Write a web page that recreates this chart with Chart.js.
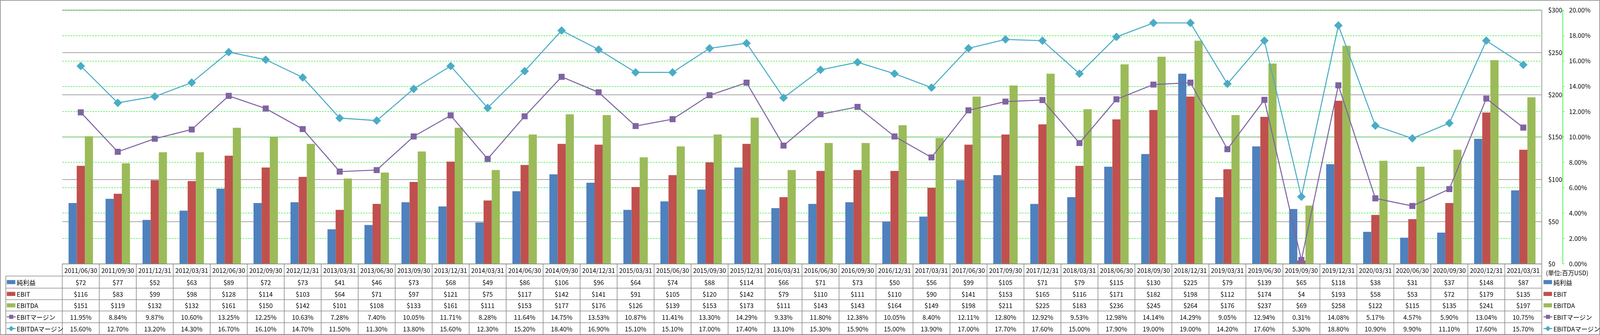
<!DOCTYPE html>
<html>
<head>
<meta charset="utf-8">
<script src="https://cdn.jsdelivr.net/npm/chart.js@4.4.1/dist/chart.umd.min.js"></script>
<style>
html,body{margin:0;padding:0;background:#fff;overflow:hidden;}
#wrap{position:fixed;left:0;top:0;width:100vw;height:100vh;overflow:hidden;}
#c{display:block;}
</style>
</head>
<body>
<div id="wrap"><canvas id="c"></canvas></div>
<script>
const categories = ["2011/06/30","2011/09/30","2011/12/31","2012/03/31","2012/06/30","2012/09/30","2012/12/31","2013/03/31","2013/06/30","2013/09/30","2013/12/31","2014/03/31","2014/06/30","2014/09/30","2014/12/31","2015/03/31","2015/06/30","2015/09/30","2015/12/31","2016/03/31","2016/06/30","2016/09/30","2016/12/31","2017/03/31","2017/06/30","2017/09/30","2017/12/31","2018/03/31","2018/06/30","2018/09/30","2018/12/31","2019/03/31","2019/06/30","2019/09/30","2019/12/31","2020/03/31","2020/06/30","2020/09/30","2020/12/31","2021/03/31"];
const netIncome = [72,77,52,63,89,72,73,41,46,73,68,49,86,106,96,64,74,88,114,66,71,73,50,56,99,105,71,79,115,130,225,79,139,65,118,38,31,37,148,87];
const ebit = [116,83,99,98,128,114,103,64,71,97,121,75,117,142,141,91,105,120,142,79,110,111,110,90,141,153,165,116,171,182,198,112,174,4,193,58,53,72,179,135];
const ebitda = [151,119,132,132,161,150,142,101,108,133,161,111,153,177,176,126,139,153,173,111,143,143,164,149,198,211,225,183,236,245,264,176,237,69,258,122,115,135,241,197];
const ebitMargin = [11.95,8.84,9.87,10.60,13.25,12.25,10.63,7.28,7.40,10.05,11.71,8.28,11.64,14.75,13.53,10.87,11.41,13.30,14.29,9.33,11.80,12.38,10.05,8.40,12.11,12.80,12.92,9.53,12.98,14.14,14.29,9.05,12.94,0.31,14.08,5.17,4.57,5.90,13.04,10.75];
const ebitdaMargin = [15.60,12.70,13.20,14.30,16.70,16.10,14.70,11.50,11.30,13.80,15.60,12.30,15.20,18.40,16.90,15.10,15.10,17.00,17.40,13.10,15.30,15.90,15.00,13.90,17.00,17.70,17.60,15.00,17.90,19.00,19.00,14.20,17.60,5.30,18.80,10.90,9.90,11.10,17.60,15.70];
const seriesNames = ["純利益","EBIT","EBITDA","EBITマージン","EBITDAマージン"];
const unitLabel = "(単位:百万USD)";
const dollarAxis = {min:0, max:300, step:50};
const pctAxis = {min:0, max:20, step:2};

const COLORS = ["#4F81BD","#C0504D","#9BBB59","#8064A2","#4BACC6"];
const FONT = "'Noto Sans CJK JP','Noto Sans',sans-serif";
const GRID_GRAY = "#8a8a8a";
const GREEN = "#00ee00";

const fmtDollar = v => "$" + v;
const fmtPct = v => v.toFixed(2) + "%";

// layout relative to a 4701 x 858 design
const wrap = document.getElementById("wrap");
const W = wrap.clientWidth || 4701;
const H = wrap.clientHeight || 858;
const sx = W / 4701, sy = H / 858, sf = Math.min(sx, sy);
const X = v => v * sx, Y = v => v * sy, F = v => v * sf;
const canvas = document.getElementById("c");
canvas.width = W; canvas.height = H;

const tablePlugin = {
  id: "dataTable",
  afterDraw(chart) {
    const ctx = chart.ctx;
    const ca = chart.chartArea;
    const xs = chart.scales.x;
    const n = categories.length;
    const colW = (ca.right - ca.left) / n;
    const rows = [ca.bottom, Y(707), Y(738), Y(767.5), Y(796.5), Y(826.5), Y(856.5)];
    const legendLeft = X(17);
    ctx.save();
    ctx.strokeStyle = GRID_GRAY;
    ctx.lineWidth = 1.6;
    ctx.setLineDash([]);
    ctx.beginPath();
    ctx.moveTo(ca.left, rows[0]); ctx.lineTo(ca.right, rows[0]);
    for (let r = 1; r < rows.length; r++) {
      ctx.moveTo(legendLeft, rows[r]); ctx.lineTo(ca.right, rows[r]);
    }
    ctx.moveTo(legendLeft, rows[1]); ctx.lineTo(legendLeft, rows[6]);
    for (let i = 0; i <= n; i++) {
      const x = ca.left + i * colW;
      ctx.moveTo(x, i === n ? ca.top : rows[0]); ctx.lineTo(x, rows[6]);
    }
    ctx.stroke();
    ctx.strokeRect(1, 1, chart.width - 2, chart.height - 2);

    ctx.fillStyle = "#000";
    ctx.textAlign = "center";
    ctx.textBaseline = "middle";
    ctx.font = F(18.5) + "px " + FONT;
    const rowVals = [
      categories,
      netIncome.map(fmtDollar),
      ebit.map(fmtDollar),
      ebitda.map(fmtDollar),
      ebitMargin.map(fmtPct),
      ebitdaMargin.map(fmtPct)
    ];
    for (let i = 0; i < n; i++) {
      const cx = xs.getPixelForValue(i);
      for (let r = 0; r < 6; r++) {
        const cy = (rows[r] + rows[r + 1]) / 2 + Y(1);
        ctx.fillText(rowVals[r][i], cx, cy);
      }
    }
    const drawKey = (x0, cy, k) => {
      const c = COLORS[k];
      if (k < 3) {
        ctx.fillStyle = c;
        ctx.fillRect(x0, cy - F(6), X(25), F(12));
      } else {
        ctx.strokeStyle = c; ctx.lineWidth = F(3);
        ctx.beginPath(); ctx.moveTo(x0, cy); ctx.lineTo(x0 + X(26), cy); ctx.stroke();
        ctx.fillStyle = c;
        ctx.beginPath();
        const mx = x0 + X(13);
        if (k === 3) {
          ctx.rect(mx - F(6), cy - F(6), F(12), F(12));
        } else {
          ctx.moveTo(mx, cy - F(8)); ctx.lineTo(mx + F(8), cy);
          ctx.lineTo(mx, cy + F(8)); ctx.lineTo(mx - F(8), cy);
          ctx.closePath();
        }
        ctx.fill();
      }
      ctx.fillStyle = "#000";
      ctx.textAlign = "left";
      ctx.font = F(18.5) + "px " + FONT;
      ctx.fillText(seriesNames[k], x0 + X(29), cy + Y(1));
    };
    const rightX = ca.right + X(5);
    for (let k = 0; k < 5; k++) {
      const cy = (rows[k + 1] + rows[k + 2]) / 2;
      drawKey(X(20), cy, k);
      drawKey(rightX, cy, k);
    }
    ctx.textAlign = "left";
    ctx.font = F(18) + "px " + FONT;
    ctx.fillText(unitLabel, ca.right + X(12), Y(699));
    ctx.restore();
  }
};

Chart.defaults.font.family = FONT;
Chart.defaults.color = "#000";

new Chart(canvas, {
  data: {
    labels: categories,
    datasets: [
      {type:"bar", label:seriesNames[0], data:netIncome, backgroundColor:COLORS[0], yAxisID:"y", order:2, categoryPercentage:0.66, barPercentage:1.0},
      {type:"bar", label:seriesNames[1], data:ebit, backgroundColor:COLORS[1], yAxisID:"y", order:2, categoryPercentage:0.66, barPercentage:1.0},
      {type:"bar", label:seriesNames[2], data:ebitda, backgroundColor:COLORS[2], yAxisID:"y", order:2, categoryPercentage:0.66, barPercentage:1.0},
      {type:"line", label:seriesNames[3], data:ebitMargin, borderColor:COLORS[3], backgroundColor:COLORS[3], yAxisID:"y1", order:1, borderWidth:F(3), pointStyle:"rect", pointRadius:F(12.5), pointBorderWidth:0, tension:0},
      {type:"line", label:seriesNames[4], data:ebitdaMargin, borderColor:COLORS[4], backgroundColor:COLORS[4], yAxisID:"y1", order:1, borderWidth:F(3), pointStyle:"rectRot", pointRadius:F(12.5), pointBorderWidth:0, tension:0}
    ]
  },
  options: {
    responsive: false,
    animation: false,
    layout: { padding: { left: X(183), top: Y(13), bottom: H - Y(676), right: X(9) } },
    plugins: { legend: { display: false }, tooltip: { enabled: false } },
    scales: {
      x: { type: "category", display: false, offset: true, grid: { display: false } },
      y: {
        position: "right", weight: 0, min: dollarAxis.min, max: dollarAxis.max,
        afterFit(s) { s.width = X(62); },
        ticks: { stepSize: dollarAxis.step, callback: v => fmtDollar(v), padding: X(19), font: { size: F(18.5) }, color: "#000" },
        grid: { color: GRID_GRAY, lineWidth: 1.6, drawTicks: false },
        border: { display: false }
      },
      y1: {
        position: "right", weight: 1, min: pctAxis.min, max: pctAxis.max,
        afterFit(s) { s.width = X(100); },
        ticks: { stepSize: pctAxis.step, callback: v => fmtPct(v), padding: X(14), font: { size: F(18.5) }, color: "#000" },
        grid: { color: GREEN, lineWidth: 1.3, tickLength: X(4), tickColor: GREEN, drawTicks: true },
        border: { display: true, color: GREEN, width: 1.3, dash: [4, 3] }
      }
    }
  },
  plugins: [tablePlugin]
});
</script>
</body>
</html>
